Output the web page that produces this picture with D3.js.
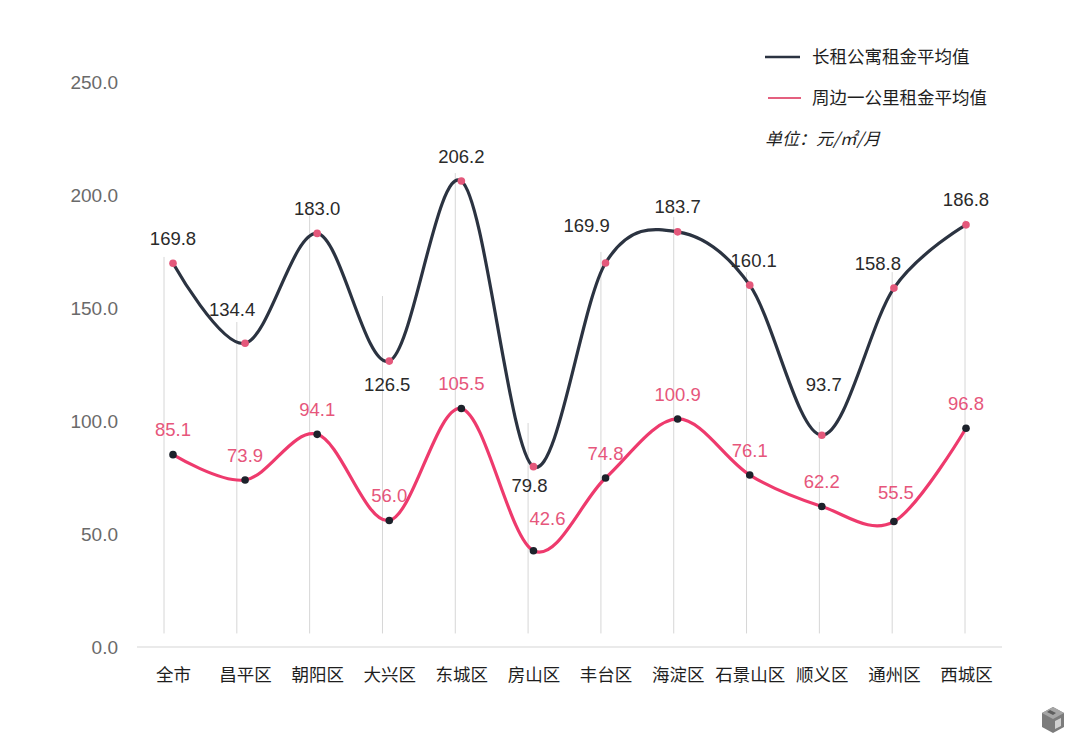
<!DOCTYPE html>
<html>
<head>
<meta charset="utf-8">
<script src="https://cdn.jsdelivr.net/npm/d3@7"></script>
<style>
  html, body { margin: 0; padding: 0; background: #fff; }
  svg { display: block; font-family: "Liberation Sans", "Noto Sans CJK SC", sans-serif; }
</style>
</head>
<body>
<svg id="chart" width="1080" height="746"></svg>
<script>
'use strict';

// categories (districts)
const districts = [ '全市', '昌平区', '朝阳区', '大兴区', '东城区', '房山区', '丰台区', '海淀区', '石景山区', '顺义区', '通州区', '西城区' ];

// long-term rental apartments, average rent
const aptRent  = [ 169.8, 134.4, 183.0, 126.5, 206.2, 79.8, 169.9, 183.7, 160.1, 93.7, 158.8, 186.8 ];
// surrounding 1km, average rent
const areaRent = [ 85.1, 73.9, 94.1, 56.0, 105.5, 42.6, 74.8, 100.9, 76.1, 62.2, 55.5, 96.8 ];

// y ticks
const yTicks = [ 0, 50, 100, 150, 200, 250 ];

// where the thin grey guides stop at the top (value units)
const guideTop = [ 172.6, 143.8, 192.0, 155.3, 209.7, 99.1, 174.8, 190.3, 165.9, 99.6, 165.9, 188.9 ];

const seriesNames = [ '长租公寓租金平均值', '周边一公里租金平均值' ];
const unitLabel   = '单位：元/㎡/月';

const C = {
  dark:      '#2b3341',
  pink:      '#ee3a6d',
  pinkDot:   '#e4587b',
  pinkText:  '#e6567b',
  darkText:  '#2a2a2a',
  axisText:  '#6a6a6a',
  grid:      '#d6d6d6'
};

const svg = d3.select( '#chart' );

// scales
const x = d3.scalePoint()
  .domain( districts )
  .range( [ 173, 966 ] );

const xGuide = d3.scalePoint()
  .domain( districts )
  .range( [ 164, 965 ] );

const y = d3.scaleLinear()
  .domain( [ 0, 250 ] )
  .range( [ 647, 82 ] );

// grey guides
svg.append( 'g' )
    .attr( 'class', 'guides' )
  .selectAll( 'line' )
    .data( districts )
  .enter().append( 'line' )
    .attr( 'x1', (d) => xGuide( d ) )
    .attr( 'x2', (d) => xGuide( d ) )
    .attr( 'y1', (d, i) => y( guideTop[i] ) )
    .attr( 'y2', y( 6 ) )
    .style( 'stroke', C.grid )
    .style( 'stroke-width', 1 );

// x axis
const xAxis = svg.append( 'g' )
  .attr( 'class', 'x axis' )
  .attr( 'transform', `translate(0,${y( 0 )})` )
  .call( d3.axisBottom( x ).tickSize( 0 ).tickPadding( 22 ) );
xAxis.select( '.domain' ).remove();
xAxis.append( 'line' )
  .attr( 'x1', 137 )
  .attr( 'x2', 1002 )
  .style( 'stroke', C.grid )
  .style( 'stroke-width', 1.2 );
xAxis.selectAll( 'text' )
  .style( 'font-size', '17.5px' )
  .style( 'fill', '#1e1e1e' )
  .style( 'font-family', '"Noto Sans CJK SC", sans-serif' );

// y axis
const yAxis = svg.append( 'g' )
  .attr( 'class', 'y axis' )
  .attr( 'transform', 'translate(118,0)' )
  .call( d3.axisLeft( y ).tickValues( yTicks ).tickSize( 0 ).tickPadding( 0 ).tickFormat( d3.format( '.1f' ) ) );
yAxis.select( '.domain' ).remove();
yAxis.selectAll( 'text' )
  .style( 'font-size', '19px' )
  .style( 'fill', C.axisText );

// lines
const line = d3.line()
  .x( (d, i) => x( districts[i] ) )
  .y( (d) => y( d ) )
  .curve( d3.curveCardinal.tension( 0 ) );

svg.append( 'path' )
  .datum( aptRent )
  .attr( 'd', line )
  .style( 'fill', 'none' )
  .style( 'stroke', C.dark )
  .style( 'stroke-width', 3.2 );

svg.append( 'path' )
  .datum( areaRent )
  .attr( 'd', line )
  .style( 'fill', 'none' )
  .style( 'stroke', C.pink )
  .style( 'stroke-width', 3.2 );

// dots
svg.append( 'g' )
  .selectAll( 'circle' )
    .data( aptRent )
  .enter().append( 'circle' )
    .attr( 'cx', (d, i) => x( districts[i] ) )
    .attr( 'cy', (d) => y( d ) )
    .attr( 'r', 3.8 )
    .style( 'fill', C.pinkDot );

svg.append( 'g' )
  .selectAll( 'circle' )
    .data( areaRent )
  .enter().append( 'circle' )
    .attr( 'cx', (d, i) => x( districts[i] ) )
    .attr( 'cy', (d) => y( d ) )
    .attr( 'r', 3.8 )
    .style( 'fill', '#1d222b' );

// value labels, a few of them are nudged off the default spot above the point
const aptNudge  = { 1: [ -13, -34 ], 3: [ -2, 23 ], 5: [ -4, 19 ], 6: [ -19, -38 ], 8: [ 4, -25 ], 9: [ 2, -51 ], 10: [ -16, -25 ] };
const areaNudge = { 5: [ 14, -32 ], 10: [ 2, -29 ] };

function addLabels( values, nudge, colour ) {
  svg.append( 'g' )
    .selectAll( 'text' )
      .data( values )
    .enter().append( 'text' )
      .attr( 'x', (d, i) => x( districts[i] ) + ( nudge[i] ? nudge[i][0] : 0 ) )
      .attr( 'y', (d, i) => y( d ) + ( nudge[i] ? nudge[i][1] : -25 ) )
      .attr( 'dy', '0.36em' )
      .style( 'text-anchor', 'middle' )
      .style( 'font-size', '18.5px' )
      .style( 'fill', colour )
      .text( (d) => d3.format( '.1f' )( d ) );
}
addLabels( aptRent, aptNudge, C.darkText );
addLabels( areaRent, areaNudge, C.pinkText );

// legend
const legend = svg.append( 'g' )
  .attr( 'class', 'legend' )
  .attr( 'transform', 'translate(765,57)' )
  .style( 'font-family', '"Noto Sans CJK SC", sans-serif' );

legend.append( 'line' )
  .attr( 'x1', 0 ).attr( 'x2', 35 )
  .style( 'stroke', C.dark ).style( 'stroke-width', 2.6 );
legend.append( 'text' )
  .attr( 'x', 47 ).attr( 'dy', '0.35em' )
  .style( 'font-size', '17.5px' ).style( 'fill', '#1e1e1e' )
  .text( seriesNames[0] );

legend.append( 'line' )
  .attr( 'x1', 3 ).attr( 'x2', 36 )
  .attr( 'y1', 41 ).attr( 'y2', 41 )
  .style( 'stroke', '#e4607f' ).style( 'stroke-width', 2 );
legend.append( 'text' )
  .attr( 'x', 47 ).attr( 'y', 41 ).attr( 'dy', '0.35em' )
  .style( 'font-size', '17.5px' ).style( 'fill', '#1e1e1e' )
  .text( seriesNames[1] );

legend.append( 'text' )
  .attr( 'x', 0 ).attr( 'y', 82 ).attr( 'dy', '0.35em' )
  .style( 'font-size', '17px' ).style( 'font-style', 'italic' ).style( 'fill', '#1e1e1e' )
  .text( unitLabel );

// little grey cube mark, bottom right
const mark = svg.append( 'g' ).attr( 'transform', 'translate(1053,720)' );
mark.append( 'path' )
  .attr( 'd', 'M0,-13 L11,-7 L11,7 L0,13 L-11,7 L-11,-7 Z' )
  .style( 'fill', '#7c7c7c' );
mark.append( 'path' )
  .attr( 'd', 'M0,-13 L11,-7 L0,-1 L-11,-7 Z' )
  .style( 'fill', '#a6a6a6' );
mark.append( 'path' )
  .attr( 'd', 'M-3,-10 L3,-7 L0,-5 L-6,-8 Z' )
  .style( 'fill', '#5e5e5e' );
mark.append( 'path' )
  .attr( 'd', 'M2,1 L8,-2 L8,6 L2,9 Z' )
  .style( 'fill', '#d0d0d0' );
</script>
</body>
</html>
